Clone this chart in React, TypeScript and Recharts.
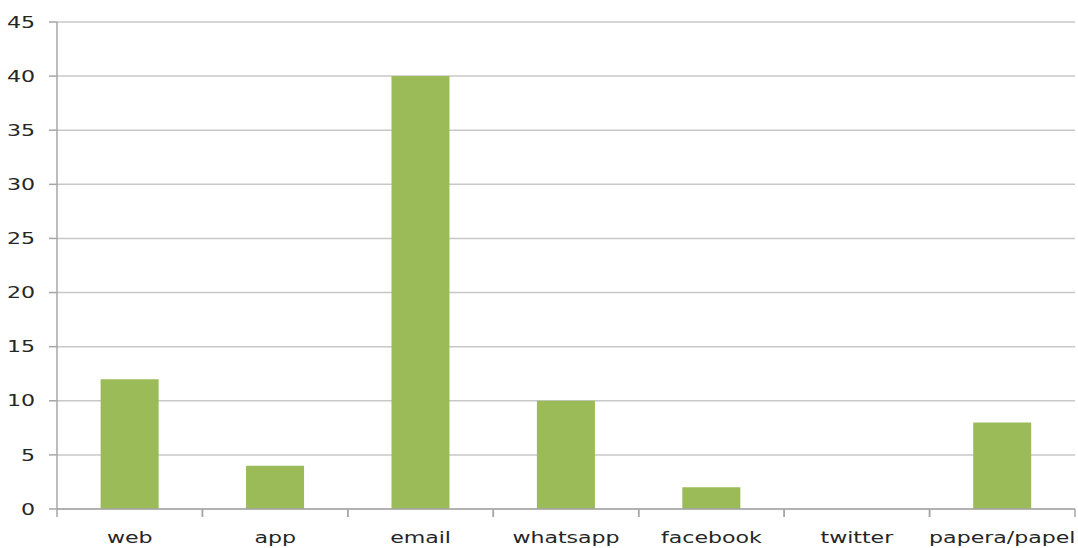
import { BarChart, Bar, XAxis, YAxis, CartesianGrid } from "recharts"

const categories = ["web", "app", "email", "whatsapp", "facebook", "twitter", "papera/papel"]
const counts = [12, 4, 40, 10, 2, 0, 8]
const yTicks = [0, 5, 10, 15, 20, 25, 30, 35, 40, 45]

const data = categories.map((name, i) => ({ name, value: counts[i] }))

const axisColor = "#a6a6a6"
const fontFamily = "DejaVu Sans, Verdana, sans-serif"
const stretch = 1.38

const X_TICK_SIZE = 8
const X_TICK_MARGIN = 15

function XTick(props: any) {
  const { x, y, payload, width, visibleTicksCount } = props
  const half = width / visibleTicksCount / 2
  const top = -X_TICK_MARGIN - X_TICK_SIZE
  return (
    <g transform={`translate(${x},${y})`}>
      <line x1={-half} x2={-half} y1={top} y2={top + X_TICK_SIZE} stroke={axisColor} strokeWidth={1.5} />
      <line x1={half} x2={half} y1={top} y2={top + X_TICK_SIZE} stroke={axisColor} strokeWidth={1.5} />
      <text
        x={0}
        y={0}
        dy="0.71em"
        textAnchor="middle"
        transform={`scale(${stretch},1)`}
        fontFamily={fontFamily}
        fontSize={16}
        fill="#262626"
      >
        {payload.value}
      </text>
    </g>
  )
}

function YTick(props: any) {
  const { x, y, payload } = props
  return (
    <g transform={`translate(${x},${y})`}>
      <text
        x={0}
        y={0}
        dy="0.355em"
        textAnchor="end"
        transform={`scale(${stretch},1)`}
        fontFamily={fontFamily}
        fontSize={16}
        fill="#262626"
      >
        {payload.value}
      </text>
    </g>
  )
}

export default function App() {
  return (
    <div style={{ position: "absolute", left: 0, top: 0, background: "#fff" }}>
      <BarChart
        width={1078}
        height={548}
        data={data}
        margin={{ top: 22, right: 3, bottom: 0, left: 0 }}
        barCategoryGap="30%"
      >
        <CartesianGrid vertical={false} stroke="#c8c8c8" strokeWidth={1.5} />
        <XAxis
          dataKey="name"
          height={39}
          tickLine={false}
          tickSize={X_TICK_SIZE}
          tickMargin={X_TICK_MARGIN}
          axisLine={{ stroke: axisColor, strokeWidth: 1.5 }}
          tick={<XTick />}
          interval={0}
        />
        <YAxis
          width={57}
          domain={[0, 45]}
          ticks={yTicks}
          interval={0}
          tick={<YTick />}
          tickSize={8}
          tickMargin={14}
          tickLine={{ stroke: axisColor, strokeWidth: 1.5 }}
          axisLine={{ stroke: axisColor, strokeWidth: 1.5 }}
        />
        <Bar dataKey="value" fill="#9bbb59" isAnimationActive={false} />
      </BarChart>
    </div>
  )
}
